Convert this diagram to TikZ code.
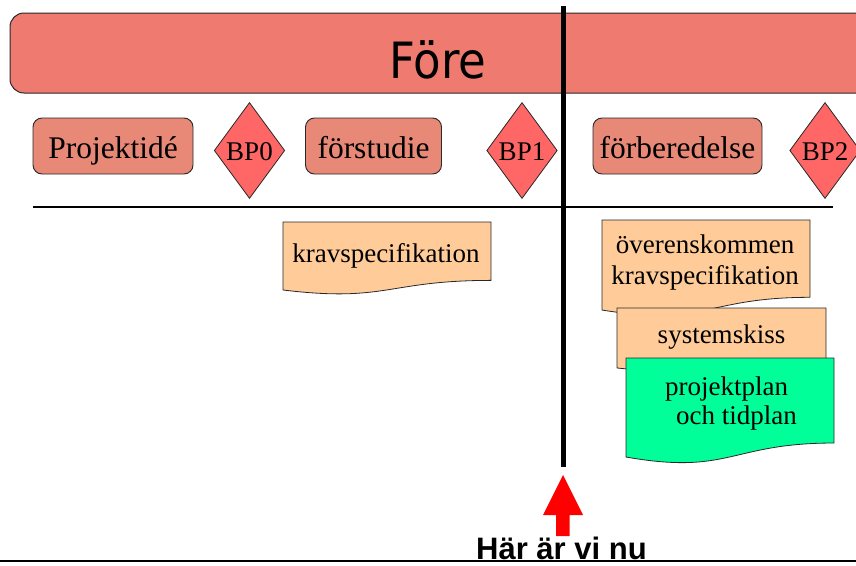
\documentclass[tikz,border=0pt]{standalone}
\usepackage{graphicx}
\usepackage{fontspec}
\setmainfont{Liberation Serif}
\newfontfamily\dvsans{DejaVu Sans}
\newfontfamily\libsans{Liberation Sans}
\usetikzlibrary{shapes.geometric}
\definecolor{bannerc}{RGB}{239,123,112}
\definecolor{phasec}{RGB}{232,137,120}
\definecolor{bpc}{RGB}{255,102,102}
\definecolor{docc}{RGB}{255,204,153}
\definecolor{greenc}{RGB}{0,255,153}
\definecolor{edgec}{RGB}{40,40,40}
\newcommand\docshape[5]{%
  \pgfmathsetmacro\dsmid{(#1+#3)/2}%
  \pgfmathsetmacro\dsr{#2+0.802*#4}%
  \pgfmathsetmacro\dsc{#2+1.107*#4}%
  \pgfmathsetmacro\dsl{#2+0.934*#4}%
  \draw[docline,fill=#5] (#1,#2) -- (#3,#2) -- (#3,\dsr)
    .. controls (\dsmid,\dsr) and (\dsmid,\dsc) .. (#1,\dsl) -- cycle;}
\begin{document}
\begin{tikzpicture}[x=1pt,y=-1pt,
  phase/.style={draw=edgec,line width=0.9pt,fill=phasec,rounded corners=9pt,
    minimum height=56pt,inner sep=0pt,text height=30pt,text depth=6pt,
    font=\fontsize{31.5}{36}\selectfont},
  bp/.style={diamond,draw=edgec,line width=0.8pt,fill=bpc,inner sep=0pt,
    minimum width=65pt,minimum height=96pt,text height=22pt,text depth=2pt,
    font=\fontsize{27}{30}\selectfont},
  docline/.style={draw=edgec,line width=0.8pt},
  doctext/.style={anchor=base,inner sep=0pt,font=\fontsize{27}{30}\selectfont}]
\useasboundingbox (0,0) rectangle (856,565);
% banner
\draw[draw=edgec,line width=1pt,fill=bannerc,rounded corners=14pt] (10,13) rectangle (880,93);
\node[anchor=base,inner sep=0pt,font=\dvsans\fontsize{50}{56}\selectfont] (fore) at (438,78) {\scalebox{0.9}[1]{Före}};
% timeline
\coordinate (vtop) at (563,6);
\coordinate (vbot) at (563,467);
\coordinate (hl) at (33,207);
\coordinate (hr) at (833,207);
\coordinate (bl) at (0,561);
\coordinate (br) at (856,561);
% phases
\node[phase,minimum width=160pt] (idea) at (113,146) {Projektidé};
\node[bp] (bp0) at (249.5,150.5) {BP0};
\node[phase,minimum width=136pt] (fs) at (373.5,146) {förstudie};
\node[bp] (bp1) at (522,150.5) {BP1};
\node[phase,minimum width=169pt] (fb) at (677.5,146) {förberedelse};
\node[bp] (bp2) at (825,150.5) {BP2};
% documents
\docshape{283}{222}{491}{72.8}{docc}
\node[doctext] (krav) at (386,262) {kravspecifikation};
\docshape{602}{220}{810}{96.4}{docc}
\node[doctext] (ov1) at (705,253) {överenskommen};
\node[doctext] (ov2) at (705,284) {kravspecifikation};
\docshape{617}{308}{826}{64.2}{docc}
\node[doctext] (sys) at (721.5,343) {systemskiss};
\docshape{626}{358}{834}{106}{greenc}
\node[doctext] (pp1) at (726.5,395) {projektplan};
\node[doctext] (pp2) at (736.5,424) {och tidplan};
% lines
\draw[line width=5pt] (vtop) -- (vbot);
\draw[line width=2.5pt] (hl) -- (hr);
\draw[line width=1.3pt] (bl) -- (br);
% arrow
\fill[red] (556,536) -- (556,515) -- (543,515) -- (563,475) -- (583,515) -- (569.5,515) -- (569.5,536) -- cycle;
\node[anchor=base,inner sep=0pt,font=\libsans\bfseries\fontsize{31}{36}\selectfont] (here) at (561.5,559) {Här är vi nu};
\end{tikzpicture}
\end{document}
